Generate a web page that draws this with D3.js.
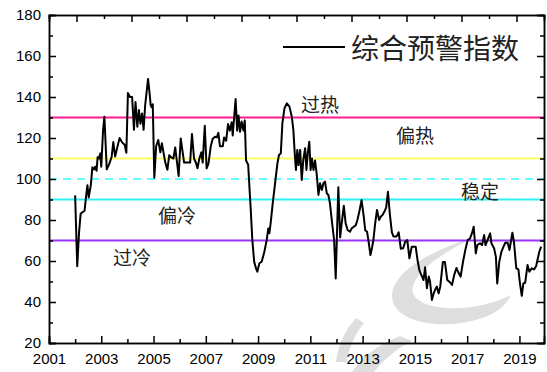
<!DOCTYPE html>
<html>
<head>
<meta charset="utf-8">
<script src="https://cdn.jsdelivr.net/npm/d3@7/dist/d3.min.js"></script>
<style>
  html, body { margin: 0; padding: 0; background: #fff; }
  svg { display: block; }
  .tick text { font-family: "Liberation Sans", Arial, sans-serif; }
</style>
</head>
<body>
<svg id="chart" width="547" height="372"></svg>
<script>
// Composite warning index, monthly readings (decimal year)
const years = [
  2002.00, 2002.08, 2002.15, 2002.21, 2002.30, 2002.36, 2002.42, 2002.47, 2002.52, 2002.60,
  2002.66, 2002.72, 2002.77, 2002.82, 2002.86, 2002.91, 2002.96, 2003.00, 2003.07, 2003.12,
  2003.21, 2003.31, 2003.40, 2003.46, 2003.53, 2003.62, 2003.70, 2003.79, 2003.90, 2003.96,
  2004.02, 2004.10, 2004.18, 2004.25, 2004.31, 2004.38, 2004.44, 2004.50, 2004.56, 2004.62,
  2004.68, 2004.79, 2004.84, 2004.89, 2004.93, 2004.97, 2005.03, 2005.10, 2005.18, 2005.26,
  2005.32, 2005.38, 2005.45, 2005.53, 2005.60, 2005.68, 2005.76, 2005.83, 2005.88, 2005.96,
  2006.04, 2006.12, 2006.17, 2006.40, 2006.47, 2006.55, 2006.62, 2006.68, 2006.75, 2006.83,
  2006.88, 2006.96, 2007.03, 2007.10, 2007.19, 2007.26, 2007.35, 2007.42, 2007.48, 2007.54,
  2007.65, 2007.70, 2007.78, 2007.85, 2007.92, 2007.99, 2008.03, 2008.08, 2008.14, 2008.20,
  2008.25, 2008.31, 2008.37, 2008.44, 2008.49, 2008.54, 2008.62, 2008.72, 2008.78, 2008.85,
  2008.92, 2008.97, 2009.05, 2009.14, 2009.24, 2009.33, 2009.39, 2009.43, 2009.48, 2009.56,
  2009.65, 2009.74, 2009.80, 2009.87, 2009.93, 2010.01, 2010.10, 2010.20, 2010.29, 2010.35,
  2010.41, 2010.45, 2010.50, 2010.55, 2010.61, 2010.67, 2010.73, 2010.80, 2010.85, 2010.90,
  2010.96, 2011.01, 2011.06, 2011.12, 2011.18, 2011.24, 2011.31, 2011.37, 2011.44, 2011.50,
  2011.56, 2011.63, 2011.69, 2011.75, 2011.84, 2011.91, 2011.97, 2012.07, 2012.14, 2012.20,
  2012.28, 2012.35, 2012.43, 2012.52, 2012.58, 2012.66, 2012.74, 2012.80, 2012.88, 2012.96,
  2013.04, 2013.10, 2013.17, 2013.22, 2013.30, 2013.36, 2013.41, 2013.48, 2013.55, 2013.63,
  2013.69, 2013.76, 2013.83, 2013.90, 2013.97, 2014.04, 2014.12, 2014.18, 2014.30, 2014.38,
  2014.46, 2014.55, 2014.63, 2014.71, 2014.79, 2014.88, 2015.03, 2015.10, 2015.17, 2015.26,
  2015.33, 2015.39, 2015.46, 2015.53, 2015.58, 2015.65, 2015.71, 2015.77, 2015.84, 2015.91,
  2015.97, 2016.07, 2016.15, 2016.24, 2016.35, 2016.42, 2016.50, 2016.59, 2016.66, 2016.75,
  2016.84, 2016.93, 2017.02, 2017.11, 2017.19, 2017.25, 2017.33, 2017.39, 2017.49, 2017.57,
  2017.65, 2017.70, 2017.78, 2017.83, 2017.88, 2017.93, 2018.03, 2018.10, 2018.15, 2018.23,
  2018.31, 2018.39, 2018.46, 2018.55, 2018.62, 2018.68, 2018.73, 2018.79, 2018.88, 2018.96,
  2019.02, 2019.09, 2019.15, 2019.22, 2019.31, 2019.38, 2019.47, 2019.56, 2019.64, 2019.69,
  2019.76, 2019.83
];
const indexValues = [
  92, 57.5, 74, 83, 84, 84.5, 91.7, 97, 91, 97,
  105.7, 104.7, 106, 104, 110.6, 110, 112.5, 106, 124, 130.4,
  104.7, 107.5, 111, 118, 111, 115.8, 120, 118, 116.6, 112.8,
  142, 140, 140, 124, 137.5, 125.5, 133.6, 127, 132, 124,
  136, 148.8, 143, 136, 135, 136.5, 100.6, 116, 119, 113,
  117.4, 113, 108, 104.5, 111.6, 110.5, 110, 115.4, 110, 101.5,
  119.8, 112.5, 108, 108, 122, 110, 108, 105.2, 109.8, 113,
  108, 126, 105.2, 107.4, 116, 119.5, 120.6, 120.3, 122.5, 116,
  116, 120.3, 118.7, 126.8, 123.6, 127.7, 121.2, 129.4, 139, 123.6,
  131, 123, 128, 123.6, 128.6, 109, 107, 84.9, 70.2, 59.7,
  56.4, 54.8, 58.9, 59.7, 64.5, 70.2, 75.9, 73.5, 78.4, 88.1,
  97.9, 107.6, 111.7, 112.5, 127.2, 134.5, 136.9, 135.3, 130.4, 123.9,
  110.9, 104.4, 114.2, 106.8, 114.2, 99.5, 109.3, 115, 104.4, 112.5,
  118.2, 104.4, 110, 104.4, 109, 102.8, 92.2, 97.9, 94.6, 97.9,
  98.7, 93, 92.2, 88.1, 77.6, 70.2, 51.5, 96, 71.5, 78.4,
  87, 78.4, 75, 74.3, 75.9, 76.7, 77.5, 80, 84.5, 89.7,
  82, 75, 74.3, 70.2, 62.9, 66.5, 70, 78.4, 84.9, 80,
  81.6, 82.4, 84, 86, 93.8, 83, 74, 72, 72, 74,
  66, 66.2, 69.4, 70.2, 61.3, 67, 67, 60.5, 55.6, 52.8,
  50.7, 56.9, 46.7, 52.4, 50, 41, 43.8, 45.9, 47.5, 44.2,
  47.5, 59.5, 59.5, 50.7, 49.5, 48.3, 53, 56.6, 54.5, 52.4,
  59.5, 65.4, 70.2, 71, 73.8, 76.7, 63.7, 67.8, 68.6, 67.8,
  72.7, 67.8, 70.2, 71.9, 73.5, 68.6, 66.2, 62, 49, 59.7,
  64.5, 67, 68.9, 68.9, 65.4, 70, 73.8, 69.4, 56.4, 55.9,
  49.1, 43, 49.1, 49.4, 58, 54.8, 56.4, 55.9, 57.6, 60.5,
  64.5, 67
];

// Threshold levels separating the five zones
const thresholdValues = [130, 110, 100, 90, 70];
const zoneNames = ["过热", "偏热", "稳定", "偏冷", "过冷"];
const legendName = "综合预警指数";

// Tick values
const yTicks = [20, 40, 60, 80, 100, 120, 140, 160, 180];
const yearLabels = [2001, 2003, 2005, 2007, 2009, 2011, 2013, 2015, 2017, 2019];

const svg = d3.select("#chart");
const L = 49, R = 544, T = 15, B = 343;

const x = d3.scaleLinear().domain([2001, 2019.94]).range([L, R]);
const xTop = d3.scaleLinear().domain([2001, 2019]).range([L, R]);
const y = d3.scaleLinear().domain([20, 180]).range([B, T]);

// faint background mark
const wm = svg.append("g").attr("fill", "#d9d9d9").attr("opacity", 0.85);
wm.append("path").attr("d",
  "M472,238 C432,250 392,272 392,296 C392,322 442,332 482,318 C497,313 506,305 511,295 " +
  "C495,303 470,310 446,308 C422,306 410,298 413,286 C418,268 446,252 472,238 Z");
wm.append("path").attr("d",
  "M400,336 C380,344 362,356 352,372 L374,372 C384,360 394,350 412,341 Z");
wm.append("path").attr("d",
  "M356,318 C345,330 338,345 336,362 L347,362 C349,347 355,334 364,323 Z");

// threshold lines
const thresholdStyle = {
  130: { color: "#ff1a8c", dash: null },
  110: { color: "#ffff66", dash: null },
  100: { color: "#66ffff", dash: "8,6" },
  90:  { color: "#2ef2f2", dash: null },
  70:  { color: "#9933ff", dash: null }
};
svg.append("g").selectAll("line").data(thresholdValues).join("line")
  .attr("x1", L).attr("x2", R)
  .attr("y1", d => y(d)).attr("y2", d => y(d))
  .attr("stroke", d => thresholdStyle[d].color)
  .attr("stroke-width", 2)
  .attr("stroke-dasharray", d => thresholdStyle[d].dash);

// zone names
const zonePos = [[320, 103], [415, 134], [480, 190], [177, 214], [132, 256]];
svg.append("g").selectAll("text").data(zoneNames).join("text")
  .attr("x", (d, i) => zonePos[i][0])
  .attr("y", (d, i) => zonePos[i][1])
  .attr("text-anchor", "middle")
  .attr("dominant-baseline", "central")
  .attr("font-family", "'Noto Sans CJK SC', sans-serif")
  .attr("font-size", 19)
  .attr("fill", "#222")
  .text(d => d);

// index line
const points = years.map((t, i) => [t, indexValues[i]]);
svg.append("path").datum(points)
  .attr("fill", "none")
  .attr("stroke", "#000")
  .attr("stroke-width", 2)
  .attr("stroke-linejoin", "round")
  .attr("d", d3.line().x(d => x(d[0])).y(d => y(d[1])));

// axes
const font = "'Liberation Sans', Arial, sans-serif";
function styleAxis(g) {
  g.select(".domain").attr("stroke", "#000").attr("stroke-width", 1.5);
  g.selectAll(".tick line").attr("stroke", "#000").attr("stroke-width", 1.5);
  g.selectAll(".tick text").attr("font-family", font).attr("font-size", 15).attr("fill", "#000");
}

// bottom
const bottomMinor = d3.range(2002, 2020, 2);
svg.append("g").attr("transform", `translate(0,${B})`)
  .call(d3.axisBottom(x).tickValues(bottomMinor).tickSize(-4).tickFormat(""))
  .call(styleAxis);
svg.append("g").attr("transform", `translate(0,${B})`)
  .call(d3.axisBottom(x).tickValues(yearLabels).tickSize(-7).tickFormat(d3.format("d")))
  .call(styleAxis)
  .call(g => g.selectAll(".tick text").attr("dy", "0.71em").attr("y", 10));

// top (mirror, no labels)
svg.append("g").attr("transform", `translate(0,${T})`)
  .call(d3.axisTop(xTop).tickValues(d3.range(2001, 2019, 2)).tickSize(-4).tickFormat(""))
  .call(styleAxis);
svg.append("g").attr("transform", `translate(0,${T})`)
  .call(d3.axisTop(xTop).tickValues(d3.range(2002, 2020, 2)).tickSize(-7).tickFormat(""))
  .call(styleAxis);

// left
svg.append("g").attr("transform", `translate(${L},0)`)
  .call(d3.axisLeft(y).tickValues(d3.range(30, 180, 20)).tickSize(-4).tickFormat(""))
  .call(styleAxis);
svg.append("g").attr("transform", `translate(${L},0)`)
  .call(d3.axisLeft(y).tickValues(yTicks).tickSize(-7).tickFormat(d3.format("d")))
  .call(styleAxis)
  .call(g => g.selectAll(".tick text").attr("x", -8));

// right
svg.append("g").attr("transform", `translate(${R},0)`)
  .call(d3.axisRight(y).tickValues(d3.range(30, 180, 20)).tickSize(-4).tickFormat(""))
  .call(styleAxis);
svg.append("g").attr("transform", `translate(${R},0)`)
  .call(d3.axisRight(y).tickValues(yTicks).tickSize(-7).tickFormat(""))
  .call(styleAxis);

// legend
const lg = svg.append("g");
lg.append("line").attr("x1", 283).attr("x2", 345).attr("y1", 47).attr("y2", 47)
  .attr("stroke", "#000").attr("stroke-width", 2);
lg.append("text").attr("x", 351).attr("y", 47)
  .attr("dominant-baseline", "central")
  .attr("font-family", "'Noto Sans CJK SC', sans-serif")
  .attr("font-size", 28)
  .attr("fill", "#222")
  .text(legendName);
</script>
</body>
</html>
